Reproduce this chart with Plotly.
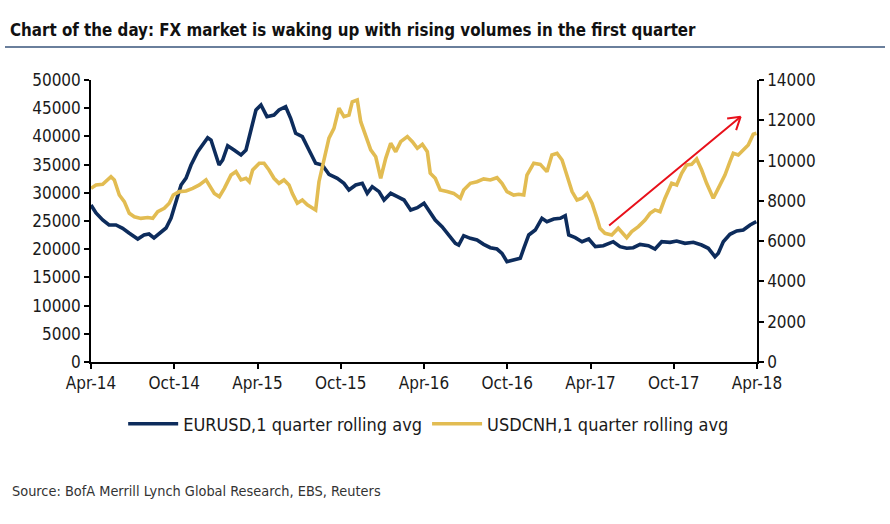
import plotly.graph_objects as go

# ---- data (x = months since Apr-2014) ----
TICK_VALS = [0, 6, 12, 18, 24, 30, 36, 42, 48]
TICK_TEXT = ["Apr-14", "Oct-14", "Apr-15", "Oct-15", "Apr-16", "Oct-16", "Apr-17", "Oct-17", "Apr-18"]

EUR_M = [0.00, 0.36, 0.84, 1.30, 1.80, 2.28, 2.74, 3.37, 3.82, 4.18, 4.54, 5.05, 5.41, 5.77, 6.13,
         6.49, 6.85, 7.21, 7.69, 8.05, 8.41, 8.65, 9.01, 9.23, 9.49, 9.85, 10.31, 10.81, 11.17, 11.53,
         11.89, 12.25, 12.68, 13.19, 13.55, 14.03, 14.39, 14.75, 15.23, 15.71, 16.19, 16.67, 17.15,
         17.75, 18.23, 18.59, 19.08, 19.55, 19.91, 20.27, 20.76, 21.12, 21.60, 22.08, 22.56, 23.04,
         23.52, 24.00, 24.34, 24.81, 25.30, 25.78, 26.26, 26.50, 26.86, 27.34, 27.82, 28.30, 28.78,
         29.26, 29.62, 29.98, 30.46, 30.94, 31.19, 31.55, 32.02, 32.50, 32.86, 33.35, 33.82, 34.18,
         34.43, 34.90, 35.39, 35.87, 36.35, 36.92, 37.64, 38.13, 38.61, 39.08, 39.57, 40.17, 40.65,
         41.13, 41.73, 42.21, 42.81, 43.41, 44.01, 44.49, 44.97, 45.21, 45.57, 46.05, 46.54, 47.01,
         47.50, 47.95]
EUR_V = [27840, 26420, 25180, 24290, 24290, 23700, 22870, 21810, 22520, 22690, 21990, 23100, 23760,
         25530, 28420, 31380, 32620, 34930, 37290, 38470, 39770, 39360, 36700, 34930, 35810, 38350,
         37590, 36700, 37590, 41430, 44680, 45570, 43500, 43790, 44680, 45270, 43210, 40550, 39950,
         37590, 35230, 34930, 33280, 32570, 31680, 30500, 31380, 31680, 29910, 31090, 30200, 28720,
         29910, 29310, 28720, 26950, 27360, 28140, 26950, 25180, 23990, 22520, 21040, 20740, 22400,
         21930, 21630, 20860, 20270, 20030, 19270, 17790, 18080, 18380, 20160, 22520, 23400, 25470,
         24880, 25360, 25470, 25940, 22520, 22050, 21330, 21810, 20450, 20620, 21330, 20450, 20160,
         20270, 20860, 20620, 20030, 21330, 21220, 21450, 21040, 21220, 20740, 20160, 18670, 19270,
         21330, 22640, 23230, 23400, 24290, 24880]

CNH_M = [0.00, 0.36, 0.84, 1.20, 1.44, 1.68, 2.04, 2.40, 2.76, 3.12, 3.60, 4.09, 4.45, 4.81, 5.28,
         5.64, 5.93, 6.36, 6.85, 7.33, 7.81, 8.29, 8.53, 8.89, 9.25, 9.61, 10.09, 10.45, 10.81, 11.17,
         11.41, 11.65, 12.13, 12.47, 12.83, 13.19, 13.55, 13.91, 14.27, 14.51, 14.87, 15.23, 15.59,
         15.95, 16.19, 16.43, 16.79, 17.15, 17.51, 17.87, 18.23, 18.59, 18.83, 19.19, 19.44, 19.80,
         20.16, 20.52, 20.88, 21.24, 21.60, 21.96, 22.32, 22.80, 23.16, 23.52, 23.88, 24.24, 24.45,
         24.81, 25.17, 25.66, 26.14, 26.62, 26.86, 27.34, 27.82, 28.30, 28.78, 29.26, 29.62, 29.98,
         30.46, 30.83, 31.19, 31.42, 31.91, 32.38, 32.86, 33.22, 33.59, 33.95, 34.31, 34.67, 35.03,
         35.39, 35.75, 36.11, 36.47, 36.68, 37.04, 37.53, 38.00, 38.36, 38.61, 38.97, 39.45, 39.93,
         40.29, 40.65, 41.01, 41.37, 41.85, 42.21, 42.57, 42.93, 43.29, 43.65, 44.01, 44.37, 44.85,
         45.21, 45.69, 46.05, 46.29, 46.65, 47.01, 47.37, 47.73, 47.96]
CNH_V = [8620, 8790, 8820, 9040, 9200, 9040, 8290, 7960, 7380, 7210, 7130, 7170, 7130, 7460, 7630,
         7880, 8290, 8460, 8490, 8620, 8790, 9040, 8790, 8370, 8210, 8620, 9280, 9450, 9040, 9120,
         8950, 9530, 9870, 9870, 9530, 9120, 8870, 9040, 8790, 8370, 7880, 8040, 7800, 7630, 7550,
         8950, 10030, 11110, 11600, 12600, 12180, 12260, 12920, 13010, 11930, 11270, 10530, 10190,
         9120, 10110, 10860, 10440, 10940, 11190, 10940, 10610, 10810, 10440, 9370, 9120, 8540, 8460,
         8370, 8130, 8540, 8870, 8950, 9090, 9040, 9150, 8870, 8460, 8290, 8330, 8290, 9280, 9870,
         9810, 9450, 10280, 10360, 10030, 9280, 8460, 8040, 8130, 8370, 7880, 7130, 6640, 6390, 6310,
         6640, 6390, 6170, 6470, 6720, 7050, 7380, 7550, 7460, 8130, 8870, 8790, 9370, 9780, 9810,
         10080, 9530, 8870, 8130, 8620, 9280, 9950, 10360, 10280, 10530, 10770, 11310, 11360]

ARROW_TIP_M = 46.82
ARROW_TIP_V = 12180   # right-axis units

NAVY = "#0d2c5c"
GOLD = "#e2bc52"
FONT = "DejaVu Sans Condensed, Liberation Sans Narrow, Arial Narrow, sans-serif"

W, H = 890, 524
L, R, T, B = 91, 133, 80, 162
PW, PH = W - L - R, H - T - B

fig = go.Figure()
fig.add_trace(go.Scatter(x=EUR_M, y=EUR_V, mode="lines", name="EURUSD,1 quarter rolling avg",
                         line=dict(color=NAVY, width=3.6), yaxis="y"))
fig.add_trace(go.Scatter(x=CNH_M, y=CNH_V, mode="lines", name="USDCNH,1 quarter rolling avg",
                         line=dict(color=GOLD, width=3.6), yaxis="y2"))

axis_common = dict(showgrid=False, zeroline=False, showline=True, linecolor="#000", linewidth=1.5,
                   ticks="outside", ticklen=5, tickwidth=1.5, tickcolor="#000",
                   tickfont=dict(family=FONT, size=17, color="#1a1a1a"))

fig.update_layout(
    width=W, height=H, margin=dict(l=L, r=R, t=T, b=B),
    paper_bgcolor="white", plot_bgcolor="white",
    font=dict(family=FONT, color="#1a1a1a"),
    title=dict(text="<b>Chart of the day: FX market is waking up with rising volumes in the first quarter</b>",
               x=10 / W, xanchor="left", y=1 - 30 / H, yanchor="middle",
               font=dict(family=FONT, size=16.8, color="#111")),
    xaxis=dict(range=[0, 48], tickvals=TICK_VALS, ticktext=TICK_TEXT, **axis_common),
    yaxis=dict(range=[0, 50000], dtick=5000, tickformat="d", **axis_common),
    yaxis2=dict(range=[0, 14000], dtick=2000, tickformat="d", overlaying="y", side="right",
                anchor="x", **axis_common),
    legend=dict(orientation="h", x=0.507, xanchor="center", y=(362 - 424) / PH, yanchor="middle",
                font=dict(family=FONT, size=18, color="#1a1a1a"), itemwidth=50,
                bgcolor="rgba(0,0,0,0)"),
    showlegend=True,
)

# title underline
fig.add_shape(type="line", xref="paper", yref="paper",
              x0=(5 - L) / PW, x1=(885 - L) / PW, y0=(H - B - 47) / PH, y1=(H - B - 47) / PH,
              line=dict(color="#6a7f9c", width=2))

# source
fig.add_annotation(text="Source: BofA Merrill Lynch Global Research, EBS, Reuters",
                   xref="paper", yref="paper", x=(10 - L) / PW, y=(H - B - 491) / PH,
                   xanchor="left", yanchor="middle", showarrow=False,
                   font=dict(family=FONT, size=14.4, color="#333"))

# red arrow (shaft + open head)
for ax, ay in [(-133, 110), (-15, 2), (-5, 15)]:
    fig.add_annotation(x=ARROW_TIP_M, y=ARROW_TIP_V, xref="x", yref="y2", text="",
                       showarrow=True, arrowhead=0, arrowwidth=2, arrowcolor="#e8101a",
                       ax=ax, ay=ay, axref="pixel", ayref="pixel", standoff=0, startstandoff=0)

fig.write_html("out.html", config={"displayModeBar": False},
               post_script="document.body.style.margin='0';")
